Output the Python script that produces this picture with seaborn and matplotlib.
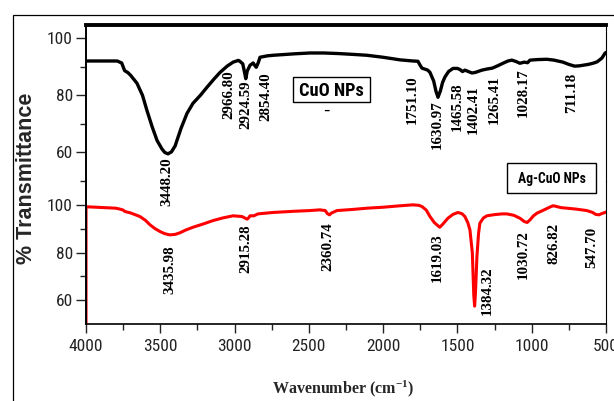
import matplotlib
matplotlib.use("Agg")
import matplotlib.pyplot as plt
from matplotlib import font_manager
from matplotlib.patches import Rectangle
from matplotlib.ticker import MultipleLocator, FixedLocator
import pandas as pd
import seaborn as sns

# FTIR spectrum of CuO nanoparticles (wavenumber in cm^-1, % transmittance)
cuo_wavenumber = [4000, 3790, 3760, 3740, 3720, 3700, 3657, 3620, 3590, 3555, 3522,
                  3490, 3470, 3448.20, 3425, 3400, 3388, 3360, 3320, 3280, 3230, 3186,
                  3140, 3098, 3050, 3010, 2975, 2966.80, 2945, 2935, 2924.59, 2915,
                  2896, 2875, 2865, 2854.40, 2840, 2829, 2780, 2740, 2600, 2493, 2400,
                  2300, 2200, 2109, 2000, 1887, 1800, 1766, 1751.10, 1739, 1700, 1685,
                  1660, 1645, 1630.97, 1615, 1600, 1584, 1560, 1530, 1500, 1483,
                  1465.58, 1450, 1436, 1402.41, 1380, 1335, 1300, 1265.41, 1230, 1194,
                  1160, 1134, 1105, 1080, 1050, 1028.17, 1012, 960, 898, 850, 790, 750,
                  711.18, 680, 656, 620, 588, 560, 528, 507, 500]
cuo_transmittance = [92.0, 92.0, 91.3, 88.6, 88.0, 87.0, 84.2, 80.0, 74.7, 69.0, 64.2,
                     61.3, 60.0, 59.5, 60.2, 62.3, 64.2, 68.5, 73.7, 77.2, 80.0, 82.8,
                     85.6, 88.0, 90.2, 91.6, 92.2, 92.0, 91.0, 88.5, 85.8, 88.5,
                     90.5, 91.3, 90.5, 89.8, 91.5, 93.3, 93.8, 94.0, 94.5, 94.8, 94.8,
                     94.6, 94.3, 94.0, 93.3, 92.4, 92.0, 91.9, 90.5, 89.5, 88.8, 88.0,
                     85.0, 81.5, 79.3, 81.5, 84.5, 86.4, 88.3, 89.4, 89.4, 89.0,
                     88.3, 88.8, 88.5, 87.8, 88.0, 88.8, 89.2, 89.5, 90.3, 91.2,
                     92.0, 92.3, 91.8, 91.2, 91.6, 91.4, 92.3, 92.5, 92.6, 92.3, 91.6, 90.8,
                     90.2, 90.3, 90.5, 90.8, 91.2, 91.7, 93.0, 94.7, 95.0]

# FTIR spectrum of Ag-CuO nanoparticles
ag_wavenumber = [4000, 4000, 3900, 3800, 3771, 3750, 3738, 3700, 3637, 3600, 3569,
                 3535, 3502, 3470, 3435.98, 3400, 3367, 3330, 3280, 3210, 3145, 3080,
                 3010, 2950, 2935, 2915.28, 2905, 2896, 2870, 2843, 2742, 2600, 2493,
                 2426, 2390, 2375, 2360.74, 2350, 2311, 2200, 2109, 2000, 1887, 1799,
                 1760, 1739, 1710, 1685, 1655, 1619.03, 1600, 1564, 1530, 1497, 1470,
                 1450, 1430, 1416, 1400, 1390, 1384.32, 1378, 1369, 1358, 1349, 1325,
                 1302, 1250, 1200, 1167, 1120, 1080, 1050, 1030.72, 1010, 990, 965,
                 920, 880, 857, 845, 826.82, 800, 763, 700, 629, 590, 570, 547.70,
                 530, 507, 500]
ag_transmittance = [50.0, 99.2, 98.9, 98.6, 98.2, 97.8, 97.2, 96.6, 95.1, 93.5, 91.6,
                    90.0, 88.8, 87.9, 87.4, 87.6, 88.3, 89.4, 90.6, 92.0, 93.4, 94.5,
                    95.4, 95.1, 94.6, 94.0, 94.6, 95.4, 95.4, 96.2, 96.8, 97.3, 97.6,
                    97.9, 97.6, 96.3, 95.8, 96.5, 97.6, 98.1, 98.6, 99.0, 99.6, 100.0,
                    99.8, 99.3, 97.8, 95.1, 92.5, 90.6, 91.8, 94.4, 96.0, 96.8, 96.3,
                    95.1, 92.5, 89.5, 80.0, 62.0, 57.5, 64.0, 78.2, 88.0, 92.3, 94.5,
                    95.4, 95.9, 96.2, 96.2, 95.6, 94.4, 93.0, 92.6, 93.8, 95.3, 96.5,
                    97.8, 99.0, 99.6, 99.5, 99.2, 98.8, 98.6, 98.2, 97.6, 96.8, 96.0, 95.8,
                    96.3, 96.8, 97.0]

# Peak annotations: text, x position (cm^-1) and top of the text (%T)
cuo_peak_labels = ["3448.20", "2966.80", "2924.59", "2854.40", "1751.10", "1630.97",
                   "1465.58", "1402.41", "1265.41", "1028.17", "711.18"]
cuo_label_x = [3455, 3038, 2923, 2789, 1806, 1638, 1503, 1396, 1254, 1059, 729]
cuo_label_y = [58.2, 88.8, 85.3, 88.1, 87.0, 78.2, 84.6, 83.5, 87.0, 89.5, 88.0]

ag_peak_labels = ["3435.98", "2915.28", "2360.74", "1619.03", "1384.32", "1030.72",
                  "826.82", "547.70"]
ag_label_x = [3435, 2923, 2372, 1638, 1302, 1059, 851, 595]
ag_label_y = [83.2, 91.6, 92.6, 88.2, 74.3, 89.5, 92.6, 90.9]

x_ticks = [4000, 3500, 3000, 2500, 2000, 1500, 1000, 500]
y_ticks = [60, 80, 100]

sns.set_theme(style="ticks")

# Prefer a condensed sans face when one is installed
names = {f.name for f in font_manager.fontManager.ttflist}
narrow = None
for cand in ["Liberation Sans Narrow", "Roboto Condensed", "Open Sans Condensed",
             "DejaVu Sans Condensed"]:
    if cand in names:
        narrow = cand
        break
if narrow:
    sans_face, tick_size, cuo_size, ag_size = narrow, 12.5, 13.2, 9.8
else:
    sans_face, tick_size, cuo_size, ag_size = "Liberation Sans", 11.3, 12.0, 8.8

plt.rcParams["font.family"] = [sans_face, "DejaVu Sans"]
plt.rcParams["mathtext.fontset"] = "custom"
plt.rcParams["mathtext.rm"] = "Liberation Serif:bold"
plt.rcParams["mathtext.bf"] = "Liberation Serif:bold"
plt.rcParams["mathtext.default"] = "rm"

cuo_df = pd.DataFrame({"wavenumber": cuo_wavenumber, "T": cuo_transmittance})
ag_df = pd.DataFrame({"wavenumber": ag_wavenumber, "T": ag_transmittance})

fig = plt.figure(figsize=(6.14, 4.01), dpi=100)
fig.patch.set_facecolor("white")
ax_top = fig.add_axes([0.1401, 0.5486, 0.8469, 0.3891])
ax_bot = fig.add_axes([0.1401, 0.1920, 0.8469, 0.3566])
ax_top.set_zorder(3)
ax_top.patch.set_alpha(0)

sns.lineplot(data=cuo_df, x="wavenumber", y="T", ax=ax_top, color="black",
             linewidth=2.4, sort=False, estimator=None)
sns.lineplot(data=ag_df, x="wavenumber", y="T", ax=ax_bot, color="#ff0000",
             linewidth=2.2, sort=False, estimator=None)

for ax in (ax_top, ax_bot):
    ax.set_xlim(4000, 500)
    ax.set_xlabel("")
    ax.set_ylabel("")
    ax.yaxis.set_major_locator(FixedLocator(y_ticks))
    ax.set_yticklabels([str(v) for v in y_ticks])
    ax.tick_params(axis="y", which="major", direction="out", length=7.2, width=1.0,
                   pad=2.2, labelsize=tick_size, colors="#222222")
    ax.tick_params(axis="y", which="minor", direction="out", length=4.3, width=1.0,
                   colors="#222222")
    ax.spines["left"].set_linewidth(1.4)
    ax.spines["right"].set_linewidth(0.8)
    for s in ax.spines.values():
        s.set_color("black")

ax_top.set_ylim(50, 104.6)
ax_top.yaxis.set_minor_locator(FixedLocator([50, 70, 90]))
ax_top.spines["top"].set_linewidth(2.8)
ax_top.spines["bottom"].set_visible(False)
ax_top.tick_params(axis="x", which="both", bottom=False, labelbottom=False)

ax_bot.set_ylim(50, 110)
ax_bot.yaxis.set_minor_locator(FixedLocator([70, 90]))
ax_bot.spines["top"].set_visible(False)
ax_bot.spines["bottom"].set_linewidth(1.2)
ax_bot.xaxis.set_major_locator(FixedLocator(x_ticks))
ax_bot.set_xticklabels([str(v) for v in x_ticks])
ax_bot.xaxis.set_minor_locator(MultipleLocator(250))
ax_bot.tick_params(axis="x", which="major", direction="out", length=6.5, width=1.0,
                   pad=4.0, labelsize=tick_size, colors="#222222")
ax_bot.tick_params(axis="x", which="minor", direction="out", length=4.3, width=1.0,
                   colors="#222222")

serif = ["Liberation Serif", "DejaVu Serif"]
for txt, lx, ly in zip(cuo_peak_labels, cuo_label_x, cuo_label_y):
    ax_top.text(lx, ly, txt, rotation=90, ha="center", va="top", fontsize=10.8,
                fontweight="bold", family=serif, color="black", clip_on=False, zorder=5)
for txt, lx, ly in zip(ag_peak_labels, ag_label_x, ag_label_y):
    ax_bot.text(lx, ly, txt, rotation=90, ha="center", va="top", fontsize=10.8,
                fontweight="bold", family=serif, color="black", clip_on=False, zorder=5)


def label_box(x0, y0, x1, y1, text, size):
    """Boxed sample name, given in pixel edges from the top-left corner."""
    W, H = 614.0, 401.0
    fig.patches.append(Rectangle((x0 / W, 1 - y1 / H), (x1 - x0) / W, (y1 - y0) / H,
                                 transform=fig.transFigure, facecolor="white",
                                 edgecolor="black", linewidth=1.0, zorder=6))
    fig.text((x0 + x1) / 2 / W, 1 - (y0 + y1) / 2 / H, text, ha="center",
             va="center_baseline", fontsize=size, fontweight="bold", color="black",
             zorder=7)


label_box(293, 77, 370, 102, "CuO NPs", cuo_size)
label_box(507, 163, 596, 193, "Ag-CuO NPs", ag_size)
fig.text(326 / 614, 1 - 111 / 401, "\u2013", ha="center", va="center", fontsize=8,
         fontweight="bold", color="black")

fig.text(27 / 614, 1 - 178 / 401, "% Transmittance", rotation=90, ha="center",
         va="center", fontsize=15.5, fontweight="bold",
         family=["Liberation Sans", "DejaVu Sans"])
fig.text(343 / 614, 1 - 389 / 401, "Wavenumber (cm$^{-1}$)", ha="center",
         va="center", fontsize=11.5, fontweight="bold", family=serif)

# Outer frame
fig.patches.append(Rectangle((13 / 614, -0.1), 1.2, 1.1 - 15 / 401,
                             transform=fig.transFigure, fill=False, edgecolor="black",
                             linewidth=0.9, clip_on=False))

fig.savefig("out.png", dpi=100)
